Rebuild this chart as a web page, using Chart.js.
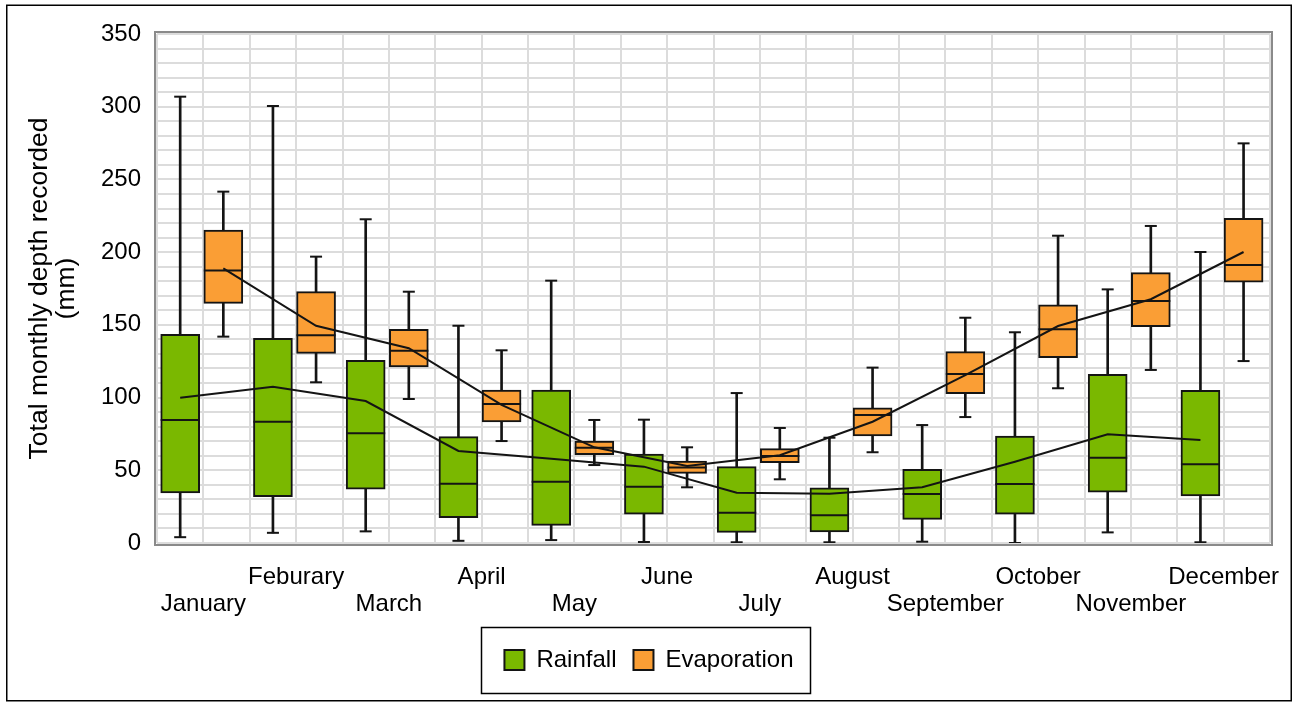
<!DOCTYPE html>
<html>
<head>
<meta charset="utf-8">
<script src="https://cdn.jsdelivr.net/npm/chart.js@4.4.1/dist/chart.umd.min.js"></script>
<style>
  html, body { margin: 0; padding: 0; background: #fff; }
  canvas { display: block; }
</style>
</head>
<body>
<canvas id="chart" width="1298" height="705"></canvas>
<script>
// Month names as printed on the axis
const months = ['January', 'Feburary', 'March', 'April', 'May', 'June',
                'July', 'August', 'September', 'October', 'November', 'December'];

// Rainfall, total monthly depth (mm)
const rainMin    = [4, 7, 8, 1.5, 2, 0.7, 0.5, 0.5, 0.9, 0, 7.3, 0.5];
const rainQ1     = [34.4, 31.9, 37.1, 17.4, 12.1, 19.9, 7.3, 7.6, 16.3, 19.9, 34.9, 32.3];
const rainMedian = [84.6, 83.4, 75.4, 40.8, 42.2, 38.7, 20.8, 19.0, 33.7, 40.6, 58.7, 54.1];
const rainQ3     = [143.5, 140.7, 125.6, 73.1, 105.2, 61.2, 52.5, 38.0, 50.7, 73.6, 116.0, 105.0];
const rainMax    = [306.9, 300.5, 222.6, 149.4, 180.4, 84.8, 103.1, 72.4, 81.1, 144.9, 174.4, 200.1];
const rainMean   = [99.9, 107.5, 97.6, 63.3, 58.0, 52.5, 34.6, 33.9, 38.3, 55.9, 74.7, 70.8];

// Evaporation, total monthly depth (mm)
const evapMin    = [141.9, 110.5, 99.0, 70.1, 53.6, 38.3, 43.8, 62.4, 86.6, 106.4, 119.0, 125.1];
const evapQ1     = [164.8, 130.4, 121.0, 83.2, 60.7, 47.9, 55.2, 73.6, 102.7, 127.4, 148.7, 179.3];
const evapMedian = [187.3, 142.8, 132.2, 95.6, 65.5, 52.0, 59.8, 88.0, 116.2, 146.9, 166.4, 191.2];
const evapQ3     = [215.2, 172.8, 146.9, 105.2, 70.1, 56.4, 64.9, 93.0, 131.6, 163.7, 185.9, 223.3];
const evapMax    = [241.6, 196.9, 172.8, 132.5, 84.6, 65.8, 79.1, 120.6, 154.9, 211.3, 218.0, 274.8];
const evapMean   = [188.9, 149.4, 133.9, 95.0, 65.8, 52.9, 60.3, 83.4, 115.5, 149.2, 167.6, 200.1];

// Value axis
const yMin = 0, yMax = 350, yGridStep = 10, yLabelStep = 50;

const FONT = "'Liberation Sans', Arial, Helvetica, sans-serif";
Chart.defaults.font.family = FONT;
Chart.defaults.color = '#000';

const GREEN = '#7ab800';
const ORANGE = '#fa9e35';
const INK = '#141414';

// Each month owns two columns of the x axis: rainfall, then evaporation
const RAIN_OFFSET = 0.5;
const EVAP_OFFSET = 1.43;
const slot = (i, off) => 2 * i + off;
const points = (vals, off) => vals.map((v, i) => ({ x: slot(i, off), y: v }));
const spans = (lo, hi, off) => lo.map((v, i) => ({ x: slot(i, off), y: [v, hi[i]] }));

const whisker = (label, lo, hi, off) => ({
  type: 'bar', label, data: spans(lo, hi, off),
  backgroundColor: INK, borderWidth: 0, grouped: false,
  barPercentage: 1, categoryPercentage: 1, maxBarThickness: 2, order: 5
});
const box = (label, lo, hi, off, color) => ({
  type: 'bar', label, data: spans(lo, hi, off),
  backgroundColor: color, borderColor: INK, borderWidth: 2,
  borderSkipped: false, grouped: false,
  barPercentage: 1, categoryPercentage: 1, maxBarThickness: 39, order: 4
});
const marks = (label, data, radius) => ({
  type: 'line', label, data, showLine: false,
  pointStyle: 'line', pointRadius: radius, pointHoverRadius: radius,
  pointBorderWidth: 2, pointBorderColor: INK, borderColor: INK, order: 3
});
const meanLine = (label, vals, off) => ({
  type: 'line', label, data: points(vals, off),
  borderColor: INK, borderWidth: 2, pointRadius: 0, tension: 0, fill: false, order: 1
});

const legendNames = ['Rainfall', 'Evaporation'];

const framePlugin = {
  id: 'frames',
  beforeDraw(chart) {
    const { ctx, width, height } = chart;
    ctx.save();
    ctx.fillStyle = '#fff';
    ctx.fillRect(0, 0, width, height);
    ctx.restore();
  },
  beforeDatasetsDraw(chart) {
    const { ctx, chartArea: a } = chart;
    ctx.save();
    ctx.strokeStyle = '#8a8a8a';
    ctx.lineWidth = 2;
    ctx.strokeRect(a.left - 2, a.top - 2, a.right - a.left + 4, a.bottom - a.top + 4);
    ctx.restore();
  },
  afterDraw(chart) {
    const { ctx, width, height } = chart;
    ctx.save();
    ctx.strokeStyle = '#000';
    ctx.lineWidth = 1.5;
    ctx.strokeRect(6.75, 5.25, width - 13.5, height - 9.5);
    const hb = chart.legend.legendHitBoxes;
    if (hb && hb.length) {
      const minX = Math.min(...hb.map(h => h.left));
      const maxX = Math.max(...hb.map(h => h.left + h.width));
      const top = Math.min(...hb.map(h => h.top));
      const bot = Math.max(...hb.map(h => h.top + h.height));
      const cy = (top + bot) / 2, h = 66;
      const x0 = Math.round(minX - 23), x1 = Math.round(maxX + 16);
      ctx.strokeRect(x0 + 0.5, Math.round(cy - h / 2) + 0.5, x1 - x0, h);
    }
    ctx.restore();
  }
};

new Chart(document.getElementById('chart'), {
  type: 'bar',
  data: {
    datasets: [
      whisker('Rainfall range', rainMin, rainMax, RAIN_OFFSET),
      whisker('Evaporation range', evapMin, evapMax, EVAP_OFFSET),
      box('Rainfall', rainQ1, rainQ3, RAIN_OFFSET, GREEN),
      box('Evaporation', evapQ1, evapQ3, EVAP_OFFSET, ORANGE),
      marks('Rainfall extremes',
            points(rainMin, RAIN_OFFSET).concat(points(rainMax, RAIN_OFFSET)), 6),
      marks('Evaporation extremes',
            points(evapMin, EVAP_OFFSET).concat(points(evapMax, EVAP_OFFSET)), 6),
      marks('Rainfall median', points(rainMedian, RAIN_OFFSET), 19.5),
      marks('Evaporation median', points(evapMedian, EVAP_OFFSET), 19.5),
      meanLine('Rainfall mean', rainMean, RAIN_OFFSET),
      meanLine('Evaporation mean', evapMean, EVAP_OFFSET)
    ]
  },
  options: {
    responsive: false,
    animation: false,
    events: [],
    layout: { padding: { left: 28, right: 28, top: 34, bottom: 23 } },
    scales: {
      x: {
        type: 'linear', min: 0, max: 2 * months.length, offset: false,
        grid: { color: '#dcdcdc', lineWidth: 2, drawTicks: false, offset: false },
        border: { display: false },
        ticks: {
          stepSize: 1, autoSkip: false, maxRotation: 0, minRotation: 0, padding: 21,
          font: { size: 24, lineHeight: 1.12 },
          callback: (v) => {
            if (v % 2 !== 1) return '';
            const i = (v - 1) / 2;
            return i % 2 === 0 ? ['', months[i]] : [months[i], ''];
          }
        },
        afterFit: (s) => { s.height = 88; }
      },
      y: {
        type: 'linear', min: yMin, max: yMax,
        grid: { color: '#dcdcdc', lineWidth: 2, drawTicks: false },
        border: { display: false },
        ticks: {
          stepSize: yGridStep, autoSkip: false, padding: 16,
          font: { size: 24 },
          callback: (v) => (v % yLabelStep === 0 ? String(v) : '')
        },
        title: {
          display: true,
          text: ['Total monthly depth recorded', '(mm)'],
          font: { size: 26.5, lineHeight: 1.02 },
          padding: { top: -1.5, bottom: 0 }
        },
        afterFit: (s) => { s.width = 129; }
      }
    },
    plugins: {
      tooltip: { enabled: false },
      legend: {
        position: 'bottom',
        labels: {
          boxWidth: 20, boxHeight: 20, padding: 17,
          font: { size: 24 },
          filter: (item) => legendNames.includes(item.text)
        }
      }
    }
  },
  plugins: [framePlugin]
});
</script>
</body>
</html>
